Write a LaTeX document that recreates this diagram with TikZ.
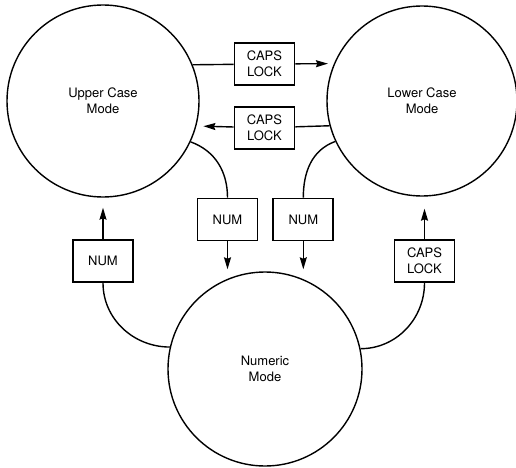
\documentclass[tikz,border=0pt]{standalone}
\usepackage{fontspec}
\setsansfont{TeX Gyre Heros}
\usetikzlibrary{arrows.meta, positioning}

\begin{document}
\begin{tikzpicture}[
    x=1pt, y=1pt,
    font=\sffamily\fontsize{13}{16}\selectfont,
    mode/.style={circle, draw, line width=1.4pt, align=center, inner sep=0pt},
    key/.style={rectangle, draw, line width=1.8pt, align=center, minimum width=60pt, minimum height=42pt, inner sep=0pt},
    link/.style={line width=1.4pt},
    arrow/.style={-{Stealth[length=12pt, width=7pt, inset=1.5pt]}, line width=1.4pt, shorten >=6pt}
]
\useasboundingbox (0,0) rectangle (516,467);

% Nodes
\node[mode, minimum size=192pt] (upper) at (103,366) {Upper Case\\Mode};
\node[mode, minimum size=190pt] (lower) at (422,366) {Lower Case\\Mode};
\node[mode, minimum size=194pt] (numeric) at (265,98) {Numeric\\Mode};

\node[key] (capsA) at (264.5,403) {CAPS\\LOCK};
\node[key, below=20pt of capsA] (capsB) {CAPS\\LOCK};

\node[key] (numA) at (227.5,247.5) {NUM};
\node[key, right=14pt of numA] (numB) {NUM};

\node[key] (numC) at (103,206) {NUM};
\node[key] (capsC) at (424.5,206) {CAPS\\LOCK};

% Arrows
\draw[link] (upper.22.7) -- (capsA);
\draw[arrow] (capsA) -- (lower.157.1);
\draw[link] (lower.195.9) -- (capsB);
\draw[arrow, shorten >=7pt] (capsB) -- (upper.-15.7);

\draw[link] (upper.-25.3) to[out=-20, in=90] (numA.north);
\draw[arrow, shorten >=2pt] (numA) -- (numA |- numeric.north);
\draw[link] (lower.205.6) to[out=200, in=90] (numB.north);
\draw[arrow, shorten >=2pt] (numB) -- (numB |- numeric.north);

\draw[link] (numeric.167.5) to[out=180, in=-90] (numC.south);
\draw[arrow, shorten >=10pt] (numC) -- (upper);
\draw[link] (numeric.12.5) to[out=0, in=-90] (capsC.south);
\draw[arrow, shorten >=12pt] (capsC) -- (capsC |- lower.south);

\end{tikzpicture}
\end{document}
